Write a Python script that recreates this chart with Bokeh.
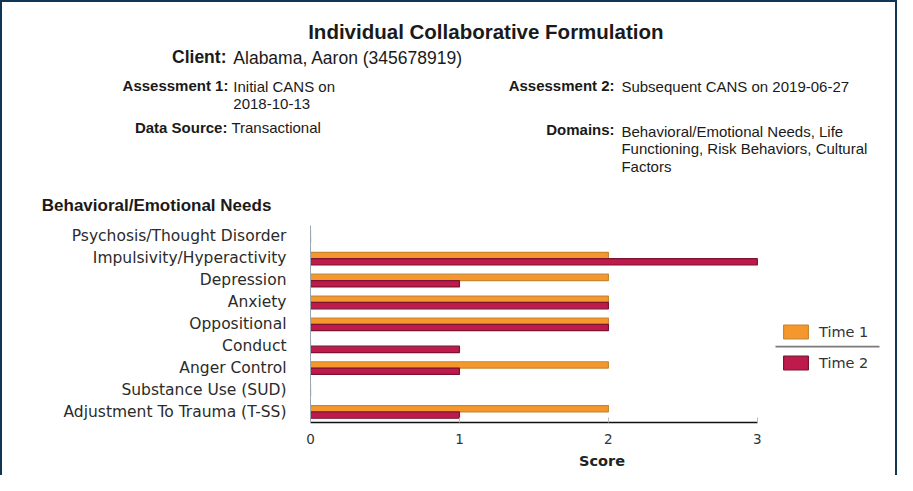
from bokeh.plotting import figure
from bokeh.layouts import column
from bokeh.models import (ColumnDataSource, Label, Legend, LegendItem, BoxAnnotation,
                          FixedTicker, Range1d)
from bokeh.transform import dodge
from bokeh.embed import file_html
from bokeh.resources import INLINE

# ---------------- data ----------------
report_title = "Individual Collaborative Formulation"
client_label, client_value = "Client:", "Alabama, Aaron (345678919)"
assess1_label, assess1_lines = "Assessment 1:", ["Initial CANS on", "2018-10-13"]
assess2_label, assess2_lines = "Assessment 2:", ["Subsequent CANS on 2019-06-27"]
source_label, source_lines = "Data Source:", ["Transactional"]
domains_label, domains_lines = "Domains:", ["Behavioral/Emotional Needs, Life",
                                            "Functioning, Risk Behaviors, Cultural",
                                            "Factors"]
section_title = "Behavioral/Emotional Needs"

categories = ["Psychosis/Thought Disorder", "Impulsivity/Hyperactivity", "Depression",
              "Anxiety", "Oppositional", "Conduct", "Anger Control",
              "Substance Use (SUD)", "Adjustment To Trauma (T-SS)"]
time1 = [0, 2, 2, 2, 2, 0, 2, 0, 2]
time2 = [0, 3, 1, 2, 2, 1, 1, 0, 1]
series_names = ["Time 1", "Time 2"]
x_ticks = [0, 1, 2, 3]
x_label = "Score"

# ---------------- styles / layout ----------------
ORANGE = "#f5972c"
ORANGE_LINE = "#c98630"
CRIMSON = "#be1a4b"
CRIMSON_LINE = "#7d1232"
TEXT = "#1a1a1a"
HFONT = "Liberation Sans"
CFONT = "DejaVu Sans"

W = 893
HH = 216          # header figure height
CH = 257          # chart figure height
SX, SY = 897 / 913, 475 / 491


def fx(rx):
    return rx * SX - 2


def fy(ry):
    return ry * SY - 2


# ---------------- header figure ----------------
h = figure(width=W, height=HH, x_range=Range1d(0, W), y_range=Range1d(HH, 0),
           x_axis_location=None, y_axis_location=None, min_border=0,
           output_backend="svg", toolbar_location=None)
h.frame_align = False
h.outline_line_color = None
h.grid.visible = False


def hlab(text, rx, ry, size, bold=False, align="left", font=HFONT, color=TEXT):
    h.add_layout(Label(x=fx(rx), y=fy(ry), text=text, text_font=font,
                       text_font_size=size, text_font_style="bold" if bold else "normal",
                       text_align=align, text_baseline="middle", text_color=color))


hlab(report_title, 494, 32, "20.5px", bold=True, align="center")
hlab(client_label, 230, 58, "17.5px", bold=True, align="right")
hlab(client_value, 237, 59, "17.5px")

LS = "15px"
LINE = 18.5
hlab(assess1_label, 232, 88, LS, bold=True, align="right")
for i, t in enumerate(assess1_lines):
    hlab(t, 237, 89 + i * LINE, LS)
hlab(assess2_label, 625, 88, LS, bold=True, align="right")
for i, t in enumerate(assess2_lines):
    hlab(t, 632, 89 + i * LINE, LS)
hlab(source_label, 231, 131, LS, bold=True, align="right")
for i, t in enumerate(source_lines):
    hlab(t, 235, 131 + i * LINE, LS)
hlab(domains_label, 625, 133, LS, bold=True, align="right")
for i, t in enumerate(domains_lines):
    hlab(t, 632, 135 + i * LINE, LS)
hlab(section_title, 42, 212, "17px", bold=True)

# ---------------- chart figure ----------------
FL = 308
MB_T = 7
MB_B = 53
X_END = 3.914

source = ColumnDataSource(dict(cat=categories, t1=time1, t2=time2))

p = figure(width=W, height=CH, y_range=list(reversed(categories)),
           x_range=Range1d(0, X_END),
           output_backend="svg", toolbar_location=None,
           min_border_left=FL, min_border_right=2,
           min_border_top=MB_T, min_border_bottom=MB_B)
p.frame_align = False
p.outline_line_color = None
p.xgrid.grid_line_color = None
p.ygrid.grid_line_color = None

r1 = p.hbar(y=dodge("cat", 0.13, range=p.y_range), right="t1", left=0, height=0.29,
            source=source, fill_color=ORANGE, line_color=ORANGE_LINE, line_width=1.2)
r2 = p.hbar(y=dodge("cat", -0.16, range=p.y_range), right="t2", left=0, height=0.29,
            source=source, fill_color=CRIMSON, line_color=CRIMSON_LINE, line_width=1.2)

p.xaxis.ticker = FixedTicker(ticks=x_ticks)
p.xaxis.bounds = (0, 3)
p.xaxis.minor_tick_line_color = None
p.xaxis.axis_line_color = "#111111"
p.xaxis.axis_line_width = 1.5
p.xaxis.major_tick_in = 5
p.xaxis.major_tick_out = 0
p.xaxis.major_tick_line_color = "#b8bcc2"
p.xaxis.major_label_standoff = 11
p.xaxis.major_label_text_font = CFONT
p.xaxis.major_label_text_font_size = "13.5px"
p.xaxis.major_label_text_color = "#333333"
p.xaxis.axis_label = x_label
p.xaxis.axis_label_text_font = CFONT
p.xaxis.axis_label_text_font_style = "bold"
p.xaxis.axis_label_text_font_size = "14.5px"
p.xaxis.axis_label_text_color = "#222222"
p.xaxis.axis_label_standoff = 6

p.yaxis.axis_line_color = "#9aa6b2"
p.yaxis.major_tick_line_color = None
p.yaxis.major_tick_out = 0
p.yaxis.major_tick_in = 0
p.yaxis.minor_tick_line_color = None
p.yaxis.major_label_text_font = CFONT
p.yaxis.major_label_text_font_size = "15.5px"
p.yaxis.major_label_text_color = "#2b2b2b"
p.yaxis.major_label_standoff = 24

legend = Legend(items=[LegendItem(label=series_names[0], renderers=[r1]),
                       LegendItem(label=series_names[1], renderers=[r2])],
                location=(470, 51), glyph_width=31, glyph_height=17, label_height=17,
                spacing=14, padding=0, margin=0, label_standoff=8,
                label_text_font=CFONT, label_text_font_size="14.5px",
                label_text_color="#333333", border_line_color=None,
                background_fill_alpha=0)
p.add_layout(legend)

# separator line between the two legend entries
p.add_layout(BoxAnnotation(left=465, right=569, bottom=75, top=76.8,
                           left_units="screen", right_units="screen",
                           bottom_units="screen", top_units="screen",
                           fill_color="#7a7a7a", fill_alpha=1, line_color=None))

layout = column(h, p, spacing=0)
layout.styles = {"border-left": "2px solid #0f3655", "border-right": "2px solid #0f3655",
                 "border-top": "2px solid #0f3655"}

open("out.html", "w").write(file_html(layout, INLINE))
